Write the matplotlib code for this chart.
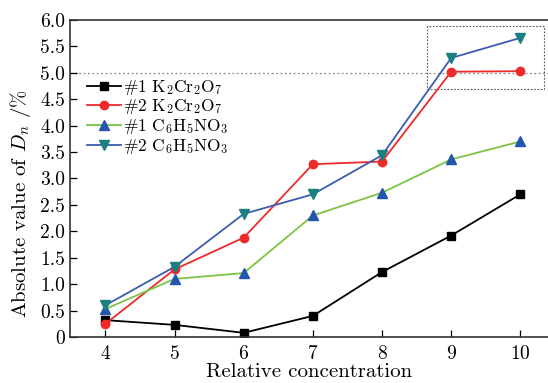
import matplotlib
matplotlib.use("Agg")
import matplotlib.pyplot as plt
from matplotlib.patches import Rectangle

# Data
concentration = [4, 5, 6, 7, 8, 9, 10]
k2cr2o7_1 = [0.32, 0.23, 0.08, 0.40, 1.23, 1.92, 2.70]
k2cr2o7_2 = [0.25, 1.28, 1.88, 3.27, 3.32, 5.02, 5.03]
c6h5no3_1 = [0.53, 1.10, 1.21, 2.30, 2.73, 3.36, 3.70]
c6h5no3_2 = [0.60, 1.33, 2.33, 2.70, 3.44, 5.28, 5.66]
y_ticks = [0, 0.5, 1.0, 1.5, 2.0, 2.5, 3.0, 3.5, 4.0, 4.5, 5.0, 5.5, 6.0]
y_tick_labels = ["0", "0.5", "1.0", "1.5", "2.0", "2.5", "3.0", "3.5",
                 "4.0", "4.5", "5.0", "5.5", "6.0"]


def main():
    plt.rcParams["font.family"] = ["cmr10", "DejaVu Serif"]
    plt.rcParams["mathtext.fontset"] = "cm"
    plt.rcParams["axes.formatter.use_mathtext"] = True

    fig = plt.figure(figsize=(5.48, 3.83), dpi=100)
    ax = fig.add_axes([0.128, 0.12, 0.872, 0.828])

    ax.axhline(5.0, color="#888888", ls=(0, (1.5, 2)), lw=0.9, zorder=1)
    ax.add_patch(Rectangle((8.65, 4.70), 1.69, 1.19, fill=False,
                           ec="#555555", ls=(0, (1.5, 1.5)), lw=0.8, zorder=1))

    ax.plot(concentration, k2cr2o7_1, color="black", lw=1.3, marker="s",
            ms=5.5, label=r"#1 K$_2$Cr$_2$O$_7$")
    ax.plot(concentration, k2cr2o7_2, color="#ee2a2a", lw=1.3, marker="o",
            ms=6, label=r"#2 K$_2$Cr$_2$O$_7$")
    ax.plot(concentration, c6h5no3_1, color="#7cc444", lw=1.3, marker="^",
            ms=7, mfc="#2456b0", mec="#2456b0", label=r"#1 C$_6$H$_5$NO$_3$")
    ax.plot(concentration, c6h5no3_2, color="#3d5cb0", lw=1.3, marker="v",
            ms=7, mfc="#1a7f80", mec="#1a7f80", label=r"#2 C$_6$H$_5$NO$_3$")

    ax.set_xlim(3.49, 10.4)
    ax.set_ylim(0, 6.0)
    ax.set_xticks(concentration)
    ax.set_yticks(y_ticks)
    ax.set_yticklabels(y_tick_labels)
    ax.tick_params(direction="in", length=5, width=0.9, labelsize=14,
                   top=False, right=False)
    ax.tick_params(axis="x", pad=6)

    ax.spines["right"].set_visible(False)
    for side in ["left", "bottom", "top"]:
        ax.spines[side].set_linewidth(1.2)
        ax.spines[side].set_color("#333333")

    ax.set_xlabel("Relative concentration", fontsize=15, labelpad=0)
    ax.set_ylabel(r"Absolute value of $D_n$ /%", fontsize=15)
    ax.yaxis.set_label_coords(-0.078, 0.42)

    ax.legend(loc="upper left", bbox_to_anchor=(0.02, 0.84), frameon=False,
              fontsize=12.5, handlelength=2.0, handletextpad=0.1,
              labelspacing=0.05, borderaxespad=0)

    fig.savefig("out.png", dpi=100)


if __name__ == "__main__":
    main()
